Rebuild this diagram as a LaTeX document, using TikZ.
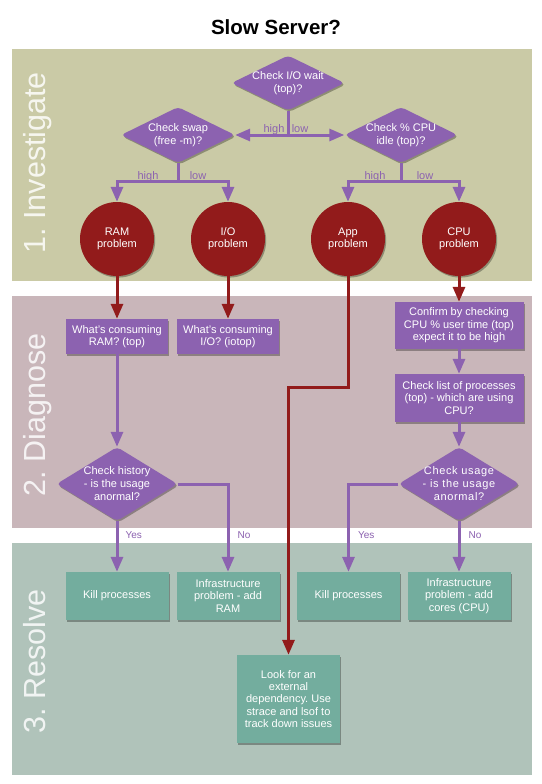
\documentclass[tikz,border=0pt]{standalone}
\usepackage{fontspec}
\setmainfont{Liberation Sans}
\usetikzlibrary{shapes.geometric,arrows.meta,shadows,calc}
\definecolor{bandA}{HTML}{CACAA6}
\definecolor{bandB}{HTML}{C9B6BA}
\definecolor{bandC}{HTML}{B0C3BA}
\definecolor{purp}{HTML}{8C62B0}
\definecolor{dred}{HTML}{921B1B}
\definecolor{tealbox}{HTML}{73AD9E}
\frenchspacing
\begin{document}
\begin{tikzpicture}[x=1pt,y=-1pt,
  every node/.style={font=\fontsize{11}{12.5}\selectfont, text=white, align=center},
  shd/.style={drop shadow={shadow xshift=1.2pt,shadow yshift=-1.6pt,opacity=0.3,fill=black}},
  dia/.style={diamond, fill=purp, inner sep=0pt, rounded corners=4pt, shd},
  circ/.style={circle, fill=dred, inner sep=0pt, minimum size=74pt, shd, font=\fontsize{11}{12.3}\selectfont},
  pbox/.style={rectangle, fill=purp, inner sep=0pt, shd},
  tbox/.style={rectangle, fill=tealbox, inner sep=0pt, minimum width=103pt, shd},
  bandlbl/.style={rotate=90, anchor=base west, font=\fontsize{30.5}{36}\selectfont},
  lbl/.style={text=purp, font=\fontsize{11}{12}\selectfont},
  lblsm/.style={text=purp, font=\fontsize{10}{12}\selectfont, anchor=base west},
  pl/.style={draw=purp, line width=3pt},
  pa/.style={pl, -{Triangle[length=15pt,width=12pt]}},
  ra/.style={draw=dred, line width=3pt, -{Triangle[length=15pt,width=12pt]}},
]
\useasboundingbox (0,0) rectangle (541,784);
\fill[white] (0,0) rectangle (541,784);

% bands
\fill[bandA] (12,49) rectangle (532,281);
\fill[bandB] (12,296) rectangle (532,528);
\fill[bandC] (12,543) rectangle (532,775);
\node[bandlbl, text=white!82!bandA] (l1) at (45,257) {1. Investigate};
\node[bandlbl, text=white!82!bandB] (l2) at (45,500) {2. Diagnose};
\node[bandlbl, text=white!82!bandC] (l3) at (45,737) {3. Resolve};

% title
\node[font=\bfseries\fontsize{20.5}{24}\selectfont, text=black, anchor=base] (title) at (276,35) {Slow Server?};

% investigate
\node[dia, minimum width=113pt, minimum height=55pt] (io) at (288,83) {};
\node (iot) at (io) {Check I/O wait\\(top)?};
\node[dia, minimum width=114pt, minimum height=56pt] (swap) at (178,135) {};
\node (swapt) at (swap) {Check swap\\(free -m)?};
\node[dia, minimum width=113pt, minimum height=56pt] (cpuq) at (401,135) {};
\node (cpuqt) at (cpuq) {Check \% CPU\\idle (top)?};

\node[circ] (ramc) at (117,239) {RAM\\problem};
\node[circ] (ioc) at (228,239) {I/O\\problem};
\node[circ] (appc) at (348,239) {App\\problem};
\node[circ] (cpuc) at (459,239) {CPU\\problem};

\coordinate (j1) at (io.south |- swap.east);
\draw[pl] (io.south) -- (j1);
\draw[pa] (j1) -- (swap.east);
\draw[pa] (j1) -- (cpuq.west);
\node[lbl, anchor=base] (h1) at (274,132) {high};
\node[lbl, anchor=base] (w1) at (300,132) {low};

\coordinate (j2) at ($(swap.south)+(0,18)$);
\draw[pl] (swap.south) -- (j2);
\draw[pa] (j2) -| (ramc.north);
\draw[pa] (j2) -| (ioc.north);
\node[lbl, anchor=base] (h2) at (148,179) {high};
\node[lbl, anchor=base] (w2) at (198,179) {low};

\coordinate (j3) at ($(cpuq.south)+(0,18)$);
\draw[pl] (cpuq.south) -- (j3);
\draw[pa] (j3) -| (appc.north);
\draw[pa] (j3) -| (cpuc.north);
\node[lbl, anchor=base] (h3) at (375,179) {high};
\node[lbl, anchor=base] (w3) at (425,179) {low};

% diagnose
\node[pbox, minimum width=102pt, minimum height=35pt] (dram) at (117,336.5) {What’s consuming\\RAM? (top)};
\node[pbox, minimum width=102pt, minimum height=35pt] (dio) at (228,336.5) {What’s consuming\\I/O? (iotop)};
\node[pbox, minimum width=129pt, minimum height=47pt] (confirm) at (459,325.5) {Confirm by checking\\CPU \% user time (top)\\expect it to be high};
\node[pbox, minimum width=129pt, minimum height=48pt] (plist) at (459,398) {Check list of processes\\(top) - which are using\\CPU?};
\node[dia, minimum width=121pt, minimum height=74pt] (hist) at (117,484) {};
\node[font=\fontsize{11}{13}\selectfont] (histt) at (hist) {Check history\\- is the usage\\anormal?};
\node[dia, minimum width=121pt, minimum height=74pt] (usage) at (459,484) {};
\node[font=\fontsize{11}{13}\selectfont\addfontfeature{LetterSpace=6}] (usaget) at (usage) {Check usage\\- is the usage\\anormal?};

\draw[ra] (ramc.south) -- (dram.north);
\draw[ra] (ioc.south) -- (dio.north);
\draw[ra] (cpuc.south) -- (confirm.north);

\draw[pa] (dram.south) -- (hist.north);
\draw[pa] (confirm.south) -- (plist.north);
\draw[pa] (plist.south) -- (usage.north);

% resolve
\node[tbox, minimum height=48pt] (kill1) at (117,596) {Kill processes};
\node[tbox, minimum height=48pt] (infra1) at (228,596) {Infrastructure\\problem - add\\RAM};
\node[tbox, minimum height=48pt] (kill2) at (348.5,596) {Kill processes};
\node[tbox, minimum height=48pt] (infra2) at (459,596) {Infrastructure\\problem - add\\cores (CPU)};
\node[tbox, minimum height=88pt, font=\fontsize{11}{12.3}\selectfont] (look) at (288.5,699) {Look for an\\external\\dependency. Use\\strace and lsof to\\track down issues};

\coordinate (abend) at (look.north |- 0,387);
\draw[ra] (appc.south) |- (abend) -- (look.north);

\draw[pa] (hist.south) -- (kill1.north);
\draw[pa] (hist.east) -| (infra1.north);
\draw[pa] (usage.west) -| (kill2.north);
\draw[pa] (usage.south) -- (infra2.north);
\node[lblsm] (y1) at ($(hist.south |- 0,538)+(5,0)$) {Yes};
\node[lblsm] (n1) at ($(infra1.north |- 0,538)+(6,0)$) {No};
\node[lblsm] (y2) at ($(kill2.north |- 0,538)+(6,0)$) {Yes};
\node[lblsm] (n2) at ($(infra2.north |- 0,538)+(6,0)$) {No};
\end{tikzpicture}
\end{document}
